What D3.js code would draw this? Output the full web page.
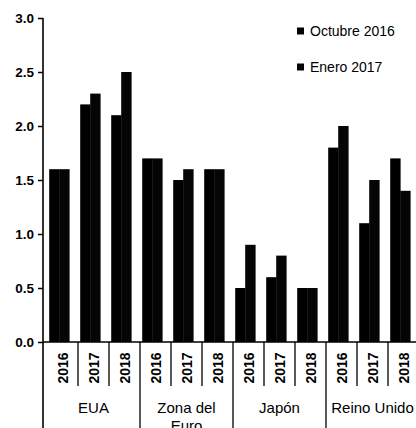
<!DOCTYPE html>
<html>
<head>
<meta charset="utf-8">
<script src="https://cdn.jsdelivr.net/npm/d3@7"></script>
<style>
  body { margin: 0; background: #fff; }
  svg { display: block; font-family: "Liberation Sans", Arial, sans-serif; }
</style>
</head>
<body>
<script>
// regions and years on the x axis
const regions = ["EUA", "Zona del Euro", "Japón", "Reino Unido"];
const years = ["2016", "2017", "2018"];
const seriesNames = ["Octubre 2016", "Enero 2017"];
// growth forecasts (region x year order)
const octubre2016 = [1.6, 2.2, 2.1, 1.7, 1.5, 1.6, 0.5, 0.6, 0.5, 1.8, 1.1, 1.7];
const enero2017 = [1.6, 2.3, 2.5, 1.7, 1.6, 1.6, 0.9, 0.8, 0.5, 2.0, 1.5, 1.4];
const yTicks = [0, 0.5, 1.0, 1.5, 2.0, 2.5, 3.0];

const width = 416, height = 428;
const axisX = 43, y0 = 342, yTop = 18;

const cats = [];
regions.forEach(r => years.forEach(y => cats.push({ region: r, year: y, id: r + "|" + y })));
const data = cats.map((c, i) => ({ ...c, values: [octubre2016[i], enero2017[i]] }));

const svg = d3.select("body").append("svg")
    .attr("width", width)
    .attr("height", height);

const y = d3.scaleLinear().domain([0, 3]).range([y0, yTop]);

const x = d3.scaleBand()
    .domain(cats.map(d => d.id))
    .range([47, 47 + 31 * cats.length]);

const xs = d3.scaleBand()
    .domain(seriesNames)
    .range([0, x.bandwidth()])
    .paddingOuter(0.55)
    .align(0.2);

const colors = d3.scaleOrdinal().domain(seriesNames).range(["#000", "#050505"]);

// bars
const g = svg.selectAll(".cat")
    .data(data)
    .enter().append("g")
    .attr("transform", d => `translate(${x(d.id)},0)`);

g.selectAll("rect")
    .data(d => d.values.map((v, i) => ({ name: seriesNames[i], value: v })))
    .enter().append("rect")
    .attr("x", d => xs(d.name))
    .attr("width", xs.bandwidth() + 0.4)
    .attr("y", d => y(d.value))
    .attr("height", d => y0 - y(d.value))
    .attr("fill", d => colors(d.name));

// y axis
const yAxis = svg.append("g")
    .attr("transform", `translate(${axisX},0)`)
    .call(d3.axisLeft(y).tickValues(yTicks).tickFormat(d3.format(".1f")).tickSize(5).tickPadding(4));
yAxis.select(".domain").remove();
yAxis.selectAll("line").attr("stroke", "#000").attr("stroke-width", 1.5);
yAxis.selectAll("text")
    .attr("font-family", "'Liberation Sans', Arial, sans-serif")
    .attr("font-size", 13.5)
    .attr("font-weight", "bold")
    .attr("fill", "#000");

svg.append("line")
    .attr("x1", axisX).attr("x2", axisX)
    .attr("y1", yTop).attr("y2", height)
    .attr("stroke", "#000").attr("stroke-width", 1.6);

// x axis baseline
svg.append("line")
    .attr("x1", axisX).attr("x2", width)
    .attr("y1", y0).attr("y2", y0)
    .attr("stroke", "#000").attr("stroke-width", 1.6);

// category dividers: short between years, long between regions
const step = x.step();
cats.forEach((c, i) => {
  if (i === 0) return;
  const major = i % years.length === 0;
  svg.append("line")
      .attr("x1", x(c.id)).attr("x2", x(c.id))
      .attr("y1", y0).attr("y2", major ? height : 386)
      .attr("stroke", "#000").attr("stroke-width", 1.3);
});

// year labels (rotated)
svg.selectAll(".yr")
    .data(cats)
    .enter().append("text")
    .attr("class", "yr")
    .attr("transform", d => `translate(${x(d.id) + step / 2 + 5},368) rotate(-90)`)
    .attr("text-anchor", "middle")
    .attr("font-size", 14)
    .attr("font-weight", "bold")
    .text(d => d.year);

// region labels ("Zona del Euro" wraps, second line runs off the bottom as in the original)
regions.forEach(r => {
  const first = x(r + "|" + years[0]);
  const cx = first + step * years.length / 2;
  const words = r === "Zona del Euro" ? ["Zona del", "Euro"] : [r];
  words.forEach((w, k) => {
    svg.append("text")
        .attr("x", cx)
        .attr("y", 413 + k * 18)
        .attr("text-anchor", "middle")
        .attr("font-size", 15)
        .text(w);
  });
});

// legend
const legend = svg.selectAll(".lg")
    .data(seriesNames)
    .enter().append("g")
    .attr("transform", (d, i) => `translate(297,${31 + i * 36})`);
legend.append("rect")
    .attr("x", 0).attr("y", -3.5)
    .attr("width", 7).attr("height", 7)
    .attr("fill", d => colors(d));
legend.append("text")
    .attr("x", 13).attr("y", 5)
    .attr("font-size", 14)
    .text(d => d);
</script>
</body>
</html>
